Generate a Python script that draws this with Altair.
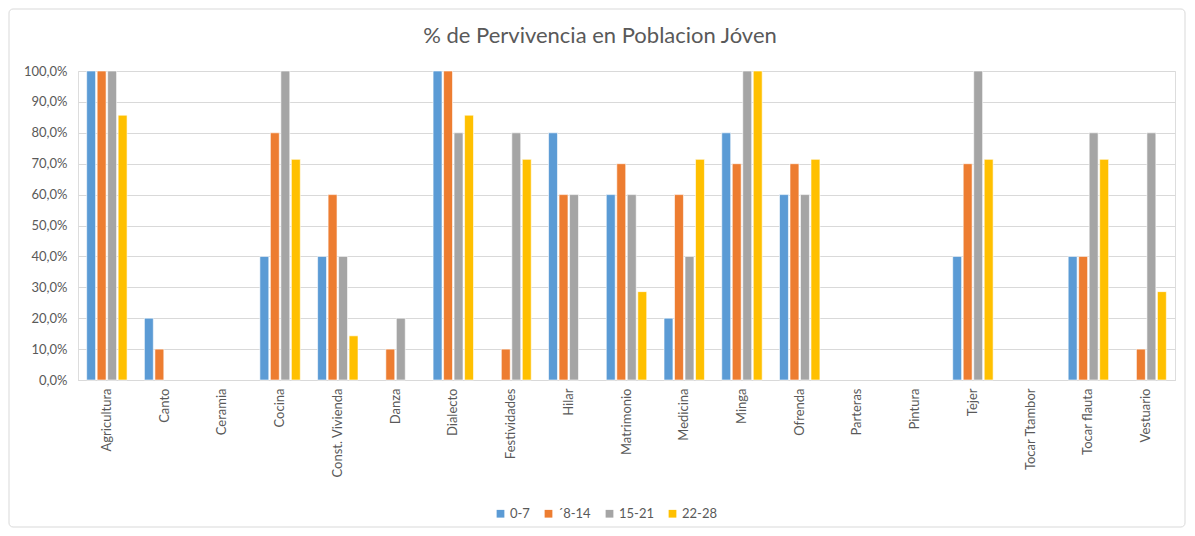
import altair as alt
import pandas as pd

categories = ["Agricultura", "Canto", "Ceramia", "Cocina", "Const. Vivienda", "Danza",
              "Dialecto", "Festividades", "Hilar", "Matrimonio", "Medicina", "Minga",
              "Ofrenda", "Parteras", "Pintura", "Tejer", "Tocar Ttambor", "Tocar flauta",
              "Vestuario"]
series = ["0-7", "´8-14", "15-21", "22-28"]
colors = ["#5B9BD5", "#ED7D31", "#A5A5A5", "#FFC000"]
title_text = "% de Pervivencia en Poblacion Jóven"

v_0_7 = [1.0, 0.2, 0, 0.4, 0.4, 0, 1.0, 0, 0.8, 0.6, 0.2, 0.8, 0.6, 0, 0, 0.4, 0, 0.4, 0]
v_8_14 = [1.0, 0.1, 0, 0.8, 0.6, 0.1, 1.0, 0.1, 0.6, 0.7, 0.6, 0.7, 0.7, 0, 0, 0.7, 0, 0.4, 0.1]
v_15_21 = [1.0, 0, 0, 1.0, 0.4, 0.2, 0.8, 0.8, 0.6, 0.6, 0.4, 1.0, 0.6, 0, 0, 1.0, 0, 0.8, 0.8]
v_22_28 = [0.857, 0, 0, 0.714, 0.143, 0, 0.857, 0.714, 0, 0.286, 0.714, 1.0, 0.714, 0, 0, 0.714, 0, 0.714, 0.286]

rows = []
for s, vals in zip(series, [v_0_7, v_8_14, v_15_21, v_22_28]):
    for c, v in zip(categories, vals):
        if v > 0:
            rows.append({"cat": c, "serie": s, "val": v})
df = pd.DataFrame(rows)

FONT = "Lato"
GREY = "#595959"

bars = alt.Chart(df).mark_bar(stroke="white", strokeWidth=0.6).encode(
    x=alt.X("cat:N", sort=categories, title=None,
            scale=alt.Scale(domain=categories, paddingInner=0.3, paddingOuter=0.15),
            axis=alt.Axis(labelAngle=270, labelAlign="right", labelBaseline="middle",
                          labelPadding=8, ticks=False, domainColor="#d9d9d9",
                          labelColor=GREY, labelFontSize=13, labelFont=FONT)),
    xOffset=alt.XOffset("serie:N", sort=series,
                        scale=alt.Scale(domain=series, paddingInner=0.15)),
    y=alt.Y("val:Q", title=None,
            scale=alt.Scale(domain=[0, 1], nice=False),
            axis=alt.Axis(values=[i / 10 for i in range(11)],
                          labelExpr="replace(format(datum.value, '.1%'), '.', ',')",
                          domain=False, ticks=False, gridColor="#d9d9d9",
                          labelColor=GREY, labelFontSize=13, labelFont=FONT,
                          labelPadding=11)),
    color=alt.Color("serie:N", sort=series,
                    scale=alt.Scale(domain=series, range=colors),
                    legend=alt.Legend(title=None, orient="none", direction="horizontal",
                                      legendX=416, legendY=436, symbolType="square",
                                      symbolSize=60, symbolStrokeWidth=0,
                                      labelColor=GREY, labelFontSize=13, labelFont=FONT,
                                      columnPadding=12, labelOffset=3)),
)

border = alt.Chart(pd.DataFrame({"a": [0]})).mark_rect(
    fill=None, stroke="#d9d9d9", strokeWidth=1, cornerRadius=4
).encode(x=alt.value(-69), x2=alt.value(1107), y=alt.value(-62), y2=alt.value(456))

title = alt.Chart(pd.DataFrame({"t": [title_text]})).mark_text(
    font=FONT, fontSize=22, color=GREY, align="center", baseline="middle"
).encode(x=alt.value(522), y=alt.value(-35), text="t:N")

chart = alt.layer(border, bars, title).properties(
    width=1097, height=309,
    autosize=alt.AutoSizeParams(type="none"),
    padding={"left": 70, "top": 63, "right": 12, "bottom": 148},
).configure_view(stroke=None).configure(background="white")

chart.save("out.html", embed_options={"renderer": "svg", "actions": False})
